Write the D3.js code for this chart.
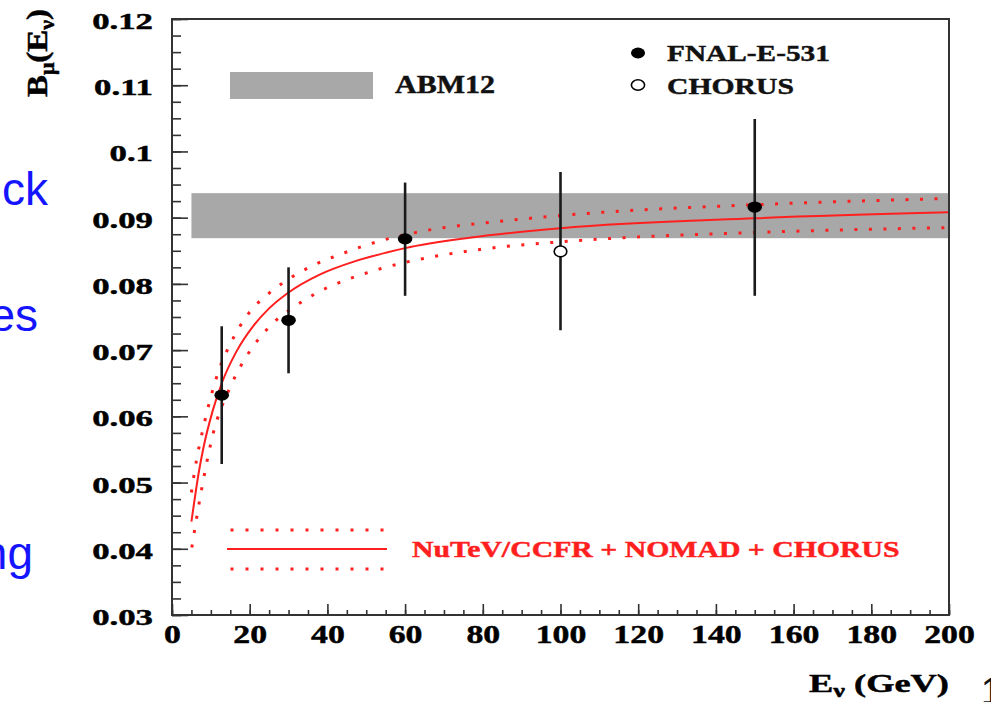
<!DOCTYPE html>
<html>
<head>
<meta charset="utf-8">
<script src="https://cdn.jsdelivr.net/npm/d3@7"></script>
<style>
  html, body { margin: 0; padding: 0; background: #fff; overflow: hidden; }
  svg { display: block; }
</style>
</head>
<body>
<svg id="chart" width="991" height="702"></svg>
<script>
// ---- axis ticks ----
const xTickValues = [0, 20, 40, 60, 80, 100, 120, 140, 160, 180, 200];
const xTickLabels = ["0", "20", "40", "60", "80", "100", "120", "140", "160", "180", "200"];
const xMinorStep = 5;
const yTickValues = [0.03, 0.04, 0.05, 0.06, 0.07, 0.08, 0.09, 0.10, 0.11, 0.12];
const yTickLabels = ["0.03", "0.04", "0.05", "0.06", "0.07", "0.08", "0.09", "0.1", "0.11", "0.12"];
const yMinorStep = 0.0025;

// ---- FNAL-E-531 (filled points) ----
const fnalE  = [12.8, 30, 60, 150];
const fnalB  = [0.0632, 0.0745, 0.0868, 0.0916];
const fnalLo = [0.0528, 0.0665, 0.0782, 0.0782];
const fnalHi = [0.0736, 0.0825, 0.0953, 0.1049];

// ---- CHORUS (open point) ----
const chorusE  = [100];
const chorusB  = [0.0849];
const chorusLo = [0.0730];
const chorusHi = [0.0969];

// ---- ABM12 band ----
const abmE = [5, 200];
const abmRange = [0.0869, 0.0937];

// ---- NuTeV/CCFR + NOMAD + CHORUS fit: central curve ----
const fitE = [5, 7, 8, 10.5, 13, 16.5, 21, 25, 30, 38, 47, 55, 60, 77, 100, 150, 200];
const fitB = [0.0441, 0.0519, 0.0550, 0.0609, 0.0653, 0.0697, 0.0737, 0.0763, 0.0787, 0.0814,
              0.0834, 0.0847, 0.0854, 0.0870, 0.0884, 0.0899, 0.0908];
// upper uncertainty edge
const upE = [5, 5.9, 8.3, 12.4, 14.9, 19.8, 24.4, 29.7, 36, 42.6, 53, 64, 87, 106, 152, 200];
const upB = [0.0485, 0.0520, 0.0589, 0.0675, 0.0708, 0.0756, 0.0783, 0.0806, 0.0827, 0.0843,
             0.0864, 0.0879, 0.0896, 0.0906, 0.0920, 0.0929];
// lower uncertainty edge
const loE = [5.1, 7.6, 10.6, 14.8, 17.5, 20.8, 25, 32.9, 39.1, 45.8, 53.1,
             60.4, 68.1, 79.3, 106, 152, 200];
const loB = [0.0402, 0.0489, 0.0574, 0.0642, 0.0674, 0.0705, 0.0735, 0.0771, 0.0792, 0.0808,
             0.0822, 0.0833, 0.0842, 0.0852, 0.0866, 0.0878, 0.0885];

// ---- drawing ----
const svg = d3.select("#chart");
const X0 = 172, X1 = 949, Y0 = 615, Y1 = 19;
const x = d3.scaleLinear().domain([0, 200]).range([X0, X1]);
const y = d3.scaleLinear().domain([0.03, 0.12]).range([Y0, Y1]);

const SERIF = "'Liberation Serif', 'Times New Roman', Times, serif";
const SANS = "'Liberation Sans', Arial, Helvetica, sans-serif";
const RED = "#ff1f1f";
const GREY = "#a8a8a8";
const INK = "#1a1a1a";

svg.append("rect").attr("width", 991).attr("height", 702).attr("fill", "#fff");

// stretch a text horizontally so that it spans a given width
function fitWidth(sel, width) {
  const w = sel.node().getBBox().width;
  const base = sel.attr("transform") || "";
  sel.attr("transform", base + ` scale(${width / w},1)`);
}
// heavy serif lettering
function heavy(sel, color) {
  return sel.attr("font-family", SERIF).attr("font-weight", "bold")
    .attr("fill", color).attr("stroke", color).attr("stroke-width", 0.45);
}

// ABM12 band
svg.append("rect")
  .attr("x", x(abmE[0])).attr("width", x(abmE[1]) - x(abmE[0]))
  .attr("y", y(abmRange[1])).attr("height", y(abmRange[0]) - y(abmRange[1]))
  .attr("fill", GREY);

// fit curves
const line = (xs, ys) => d3.line()
  .x(d => x(d[0])).y(d => y(d[1]))
  .curve(d3.curveMonotoneX)(xs.map((v, i) => [v, ys[i]]));

svg.append("path").attr("d", line(upE, upB))
  .attr("fill", "none").attr("stroke", RED).attr("stroke-width", 3)
  .attr("stroke-dasharray", "3 11.5");
svg.append("path").attr("d", line(loE, loB))
  .attr("fill", "none").attr("stroke", RED).attr("stroke-width", 3)
  .attr("stroke-dasharray", "3 11.5");
svg.append("path").attr("d", line(fitE, fitB))
  .attr("fill", "none").attr("stroke", RED).attr("stroke-width", 2);

// error bars
const errG = svg.append("g").attr("stroke", INK).attr("stroke-width", 2.6);
fnalE.forEach((e, i) => {
  errG.append("line").attr("x1", x(e)).attr("x2", x(e))
    .attr("y1", y(fnalHi[i])).attr("y2", y(fnalLo[i]));
});
chorusE.forEach((e, i) => {
  errG.append("line").attr("x1", x(e)).attr("x2", x(e))
    .attr("y1", y(chorusHi[i])).attr("y2", y(chorusLo[i]));
});

// markers
svg.append("g").selectAll("ellipse").data(fnalE).join("ellipse")
  .attr("cx", d => x(d)).attr("cy", (d, i) => y(fnalB[i]))
  .attr("rx", 7.3).attr("ry", 5.6).attr("fill", "#000");
svg.append("g").selectAll("ellipse").data(chorusE).join("ellipse")
  .attr("cx", d => x(d)).attr("cy", (d, i) => y(chorusB[i]))
  .attr("rx", 6.3).attr("ry", 5.4).attr("fill", "#fff")
  .attr("stroke", "#000").attr("stroke-width", 1.6);

// axes
const axStroke = "#333";
const gx = svg.append("g").attr("transform", `translate(0,${Y0})`);
gx.call(d3.axisBottom(x).tickValues(d3.range(0, 201, xMinorStep)).tickSize(-5).tickFormat(""));
const gxMajor = svg.append("g").attr("transform", `translate(0,${Y0})`);
gxMajor.call(d3.axisBottom(x).tickValues(xTickValues).tickSize(-11).tickPadding(9.5)
  .tickFormat((d, i) => xTickLabels[i]));

const gy = svg.append("g").attr("transform", `translate(${X0},0)`);
gy.call(d3.axisLeft(y).tickValues(d3.range(0, 37).map(i => 0.03 + i * yMinorStep)).tickSize(-9).tickFormat(""));
const gyMajor = svg.append("g").attr("transform", `translate(${X0},0)`);
gyMajor.call(d3.axisLeft(y).tickValues(yTickValues).tickSize(-16).tickPadding(19)
  .tickFormat((d, i) => yTickLabels[i]));

svg.selectAll(".domain").remove();
svg.selectAll(".tick line").attr("stroke", axStroke).attr("stroke-width", 1.6);

heavy(gxMajor.selectAll(".tick text"), "#000")
  .attr("font-size", 26).attr("y", 0).attr("dy", "0")
  .attr("transform", "translate(0,28) scale(1.3,1)");

heavy(gyMajor.selectAll(".tick text"), "#000")
  .attr("font-size", 24).attr("x", 0).attr("dy", "0")
  .attr("transform", "translate(-19,9.5) scale(1.45,1)");

// frame
svg.append("rect").attr("x", X0).attr("y", Y1)
  .attr("width", X1 - X0).attr("height", Y0 - Y1)
  .attr("fill", "none").attr("stroke", axStroke).attr("stroke-width", 2);

// legend: ABM12
svg.append("rect").attr("x", 230).attr("y", 72).attr("width", 143).attr("height", 27).attr("fill", GREY);
const tAbm = heavy(svg.append("text"), "#111").attr("transform", "translate(395,93)")
  .attr("font-size", 25).text("ABM12");
fitWidth(tAbm, 100);

// legend: experiments
svg.append("ellipse").attr("cx", 638).attr("cy", 53).attr("rx", 7).attr("ry", 5.4).attr("fill", "#000");
svg.append("ellipse").attr("cx", 638).attr("cy", 85).attr("rx", 6.6).attr("ry", 5.2)
  .attr("fill", "#fff").attr("stroke", "#000").attr("stroke-width", 1.6);
const tFnal = heavy(svg.append("text"), "#111").attr("transform", "translate(667,61)")
  .attr("font-size", 24).text("FNAL-E-531");
fitWidth(tFnal, 163);
const tChorus = heavy(svg.append("text"), "#111").attr("transform", "translate(667,94)")
  .attr("font-size", 24).text("CHORUS");
fitWidth(tChorus, 127);

// legend: fit
svg.append("line").attr("x1", 227).attr("x2", 387).attr("y1", 549).attr("y2", 549)
  .attr("stroke", RED).attr("stroke-width", 2);
[530, 569].forEach(yy => {
  svg.append("line").attr("x1", 230.5).attr("x2", 386).attr("y1", yy).attr("y2", yy)
    .attr("stroke", RED).attr("stroke-width", 3).attr("stroke-dasharray", "3 12");
});
const tFit = heavy(svg.append("text"), RED).attr("transform", "translate(412,557)")
  .attr("font-size", 22.5).text("NuTeV/CCFR + NOMAD + CHORUS");
fitWidth(tFit, 488);

// axis titles
const yTitle = heavy(svg.append("text"), "#000").attr("transform", "translate(47,97) rotate(-90)")
  .attr("font-size", 30);
yTitle.append("tspan").text("B");
yTitle.append("tspan").attr("font-size", 20).attr("dy", 7).text("μ");
yTitle.append("tspan").attr("dy", -7).text("(E");
yTitle.append("tspan").attr("font-size", 20).attr("dy", 7).text("ν");
yTitle.append("tspan").attr("dy", -7).text(")");
fitWidth(yTitle, 88);

const xTitle = heavy(svg.append("text"), "#000").attr("transform", "translate(809,692)")
  .attr("font-size", 25);
xTitle.append("tspan").text("E");
xTitle.append("tspan").attr("font-size", 18).attr("dy", 5).text("ν");
xTitle.append("tspan").attr("dy", -5).text(" (GeV)");
fitWidth(xTitle, 140);

// surrounding slide text
const BLUE = "#1414ff";
[["ck", 48, 205], ["es", 38, 331], ["ng", 33, 569]].forEach(([s, xe, yb]) => {
  svg.append("text").attr("x", xe).attr("y", yb).attr("text-anchor", "end")
    .attr("font-family", SANS).attr("font-size", 46).attr("fill", BLUE).text(s);
});
svg.append("text").attr("x", 981).attr("y", 704)
  .attr("font-family", SANS).attr("font-size", 36).attr("fill", "#111").text("1");
</script>
</body>
</html>
